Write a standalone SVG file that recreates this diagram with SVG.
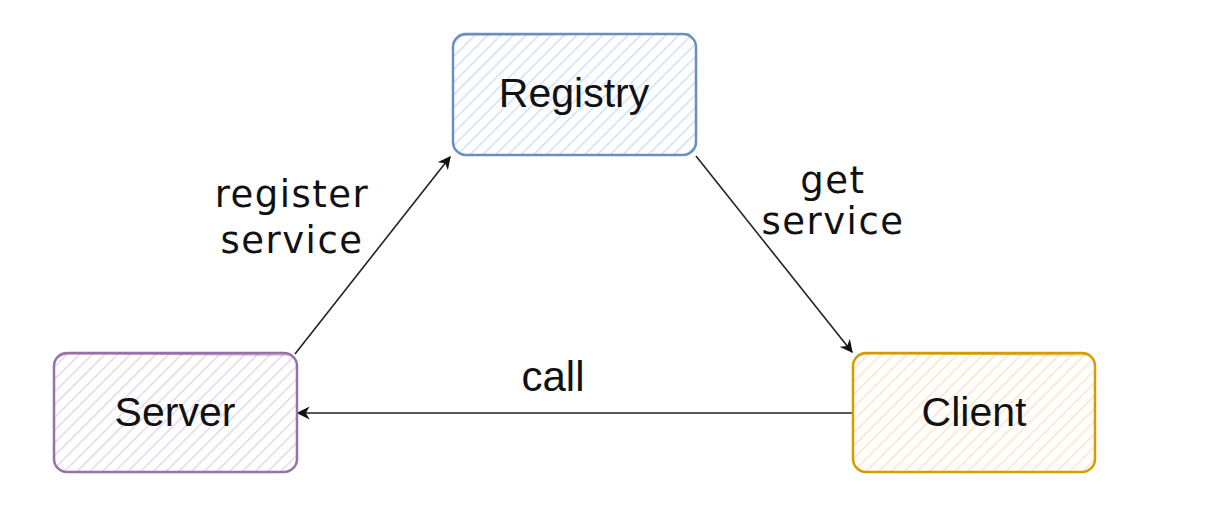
<svg xmlns="http://www.w3.org/2000/svg" width="1229" height="510" viewBox="0 0 1229 510">
  <style>
    .box { stroke-width: 2.5; stroke-linejoin: round; }
    .edge { fill: none; stroke: #222; stroke-width: 1.6; }
    .node-label { font-family: "Liberation Sans", Arial, sans-serif; font-size: 41px; fill: #111; text-anchor: middle; }
    .edge-label { font-family: "Comic Sans MS", "DejaVu Sans", sans-serif; font-size: 37px; letter-spacing: 1.5px; fill: #111; text-anchor: middle; }
    .call-label { font-family: "Liberation Sans", Arial, sans-serif; font-size: 42px; fill: #111; text-anchor: middle; }
  </style>
  <defs>
    <pattern id="hatch-blue" width="9" height="9" patternUnits="userSpaceOnUse" patternTransform="rotate(45)">
      <rect width="9" height="9" fill="#ffffff"/>
      <line x1="0" y1="0" x2="0" y2="9" stroke="#cfe0f8" stroke-width="3"/>
    </pattern>
    <pattern id="hatch-purple" width="9" height="9" patternUnits="userSpaceOnUse" patternTransform="rotate(45)">
      <rect width="9" height="9" fill="#ffffff"/>
      <line x1="0" y1="0" x2="0" y2="9" stroke="#e3d8ea" stroke-width="3"/>
    </pattern>
    <pattern id="hatch-orange" width="9" height="9" patternUnits="userSpaceOnUse" patternTransform="rotate(45)">
      <rect width="9" height="9" fill="#ffffff"/>
      <line x1="0" y1="0" x2="0" y2="9" stroke="#ffe3c6" stroke-width="3"/>
    </pattern>
    <marker id="arrow" viewBox="0 0 10 10" refX="9" refY="5" markerWidth="13" markerHeight="13" markerUnits="userSpaceOnUse" orient="auto">
      <path d="M0,0 L10,5 L0,10 L3,5 Z" fill="#111"/>
    </marker>
  </defs>

  <rect width="1229" height="510" fill="#ffffff"/>

  <!-- connectors -->
  <g id="connectors">
    <line class="edge" x1="295" y1="354" x2="450" y2="157" marker-end="url(#arrow)"/>
    <line class="edge" x1="696" y1="156" x2="852" y2="352" marker-end="url(#arrow)"/>
    <line class="edge" x1="852" y1="413" x2="298" y2="413" marker-end="url(#arrow)"/>
    <text class="edge-label" x="292" y="207">register</text>
    <text class="edge-label" x="292" y="253">service</text>
    <text class="edge-label" x="833" y="193">get</text>
    <text class="edge-label" x="833" y="234">service</text>
    <text class="call-label" x="553" y="391">call</text>
  </g>

  <!-- nodes -->
  <g id="registry">
    <rect class="box" x="453" y="34" width="243" height="121" rx="13" fill="url(#hatch-blue)" stroke="#6c8ebf"/>
    <path d="M455,40 Q457,35 470,35 L690,34" fill="none" stroke="#6c8ebf" stroke-width="1.2" opacity="0.7"/>
    <text class="node-label" x="574" y="107">Registry</text>
  </g>

  <g id="server">
    <rect class="box" x="54" y="353" width="243" height="119" rx="13" fill="url(#hatch-purple)" stroke="#9673a6"/>
    <path d="M56,360 Q58,354 72,354 L290,355" fill="none" stroke="#9673a6" stroke-width="1.2" opacity="0.7"/>
    <text class="node-label" x="175" y="426">Server</text>
  </g>

  <g id="client">
    <rect class="box" x="853" y="353" width="242" height="119" rx="13" fill="url(#hatch-orange)" stroke="#d79b00"/>
    <path d="M855,360 Q857,354 871,354 L1088,355" fill="none" stroke="#d79b00" stroke-width="1.2" opacity="0.7"/>
    <text class="node-label" x="974" y="426">Client</text>
  </g>
</svg>
